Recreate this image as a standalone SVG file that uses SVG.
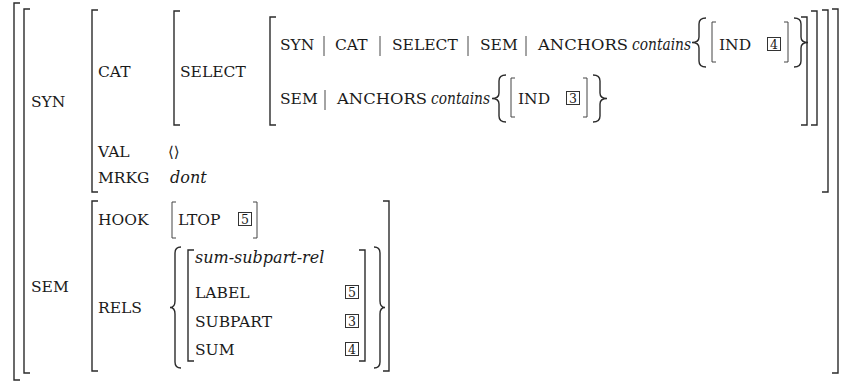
<svg xmlns="http://www.w3.org/2000/svg" width="842" height="381" viewBox="0 0 842 381">
<style>
.t{font-size:15.5px}
.i{font-style:italic;font-size:16px}
.n{font-size:12.5px;text-anchor:middle}
.br{fill:none;stroke:#2b2b2b;stroke-width:1.4}
.sb{fill:none;stroke:#444;stroke-width:1}
.bx{fill:none;stroke:#333;stroke-width:1}
.bar{stroke:#333;stroke-width:0.9}
</style>
<rect width="842" height="381" fill="#fff"/>
<g id="outer">
<path class="br" d="M20 3H14V380H20"/>
<path class="br" d="M30 9H24V373H30"/>
<path class="br" d="M832 9H838V373H832"/>
</g>
<g font-family="DejaVu Serif, Liberation Serif, serif" fill="#1a1a1a">
<g id="syn">
<text class="t" x="31" y="107">SYN</text>
<path class="br" d="M98 10H92V192H98"/>
<path class="br" d="M822 10H828V192H822"/>
<text class="t" x="98" y="77">CAT</text>
<path class="br" d="M180 11H174V125H180"/>
<path class="br" d="M811 11H817V125H811"/>
<text class="t" x="180" y="77">SELECT</text>
<path class="br" d="M276 17H270V125H276"/>
<path class="br" d="M801 17H807V125H801"/>
<g id="row1">
<text class="t" x="280" y="50">SYN</text>
<line class="bar" x1="324" y1="36" x2="324" y2="56"/>
<text class="t" x="335" y="50">CAT</text>
<line class="bar" x1="380" y1="36" x2="380" y2="56"/>
<text class="t" x="392" y="50">SELECT</text>
<line class="bar" x1="468" y1="36" x2="468" y2="56"/>
<text class="t" x="480" y="50">SEM</text>
<line class="bar" x1="526" y1="36" x2="526" y2="56"/>
<text class="t" x="538" y="50" textLength="90" lengthAdjust="spacingAndGlyphs">ANCHORS</text>
<text class="i" x="632" y="50" textLength="59" lengthAdjust="spacingAndGlyphs">contains</text>
<path class="br" d="M706 18Q699 18 699 24V37Q699 42.5 692 42.5Q699 42.5 699 48V61Q699 67 706 67"/>
<path class="sb" d="M716 22H712V62H716"/>
<text class="t" x="719" y="50">IND</text>
<rect class="bx" x="767.5" y="37.5" width="13" height="13"/>
<text class="n" x="774" y="49">4</text>
<path class="sb" d="M784 22H788V62H784"/>
<path class="br" d="M794 18Q801 18 801 24V37Q801 42.5 808 42.5Q801 42.5 801 48V61Q801 67 794 67"/>
</g>
<g id="row2">
<text class="t" x="280" y="104">SEM</text>
<line class="bar" x1="325" y1="90" x2="325" y2="110"/>
<text class="t" x="337" y="104" textLength="90" lengthAdjust="spacingAndGlyphs">ANCHORS</text>
<text class="i" x="431" y="104" textLength="59" lengthAdjust="spacingAndGlyphs">contains</text>
<path class="br" d="M506 75Q499 75 499 81V93Q499 98.5 492 98.5Q499 98.5 499 104V116Q499 122 506 122"/>
<path class="sb" d="M515 78H511V117H515"/>
<text class="t" x="518" y="104">IND</text>
<rect class="bx" x="566.5" y="91.5" width="13" height="13"/>
<text class="n" x="573" y="103">3</text>
<path class="sb" d="M583 78H587V117H583"/>
<path class="br" d="M593 75Q600 75 600 81V93Q600 98.5 607 98.5Q600 98.5 600 104V116Q600 122 593 122"/>
</g>
<text class="t" x="98" y="157">VAL</text>
<text x="168" y="157" font-size="15">⟨⟩</text>
<text class="t" x="98" y="183">MRKG</text>
<text class="i" x="170" y="183">dont</text>
</g>
<g id="sem">
<text class="t" x="31" y="292">SEM</text>
<path class="br" d="M98 201H92V371H98"/>
<path class="br" d="M383 201H389V371H383"/>
<text class="t" x="98" y="225">HOOK</text>
<path class="sb" d="M176 202H172V238H176"/>
<text class="t" x="178" y="225">LTOP</text>
<rect class="bx" x="238.5" y="212.5" width="13" height="13"/>
<text class="n" x="245" y="224">5</text>
<path class="sb" d="M253 202H257V238H253"/>
<text class="t" x="98" y="313">RELS</text>
<path class="br" d="M181 247Q175 247 175 253V301Q175 307.5 170 307.5Q175 307.5 175 314V362Q175 368 181 368"/>
<path class="br" d="M194 250H188V361H194"/>
<text class="i" x="195" y="263">sum-subpart-rel</text>
<text class="t" x="195" y="298">LABEL</text>
<rect class="bx" x="345.5" y="285.5" width="13" height="13"/>
<text class="n" x="352" y="297">5</text>
<text class="t" x="195" y="327">SUBPART</text>
<rect class="bx" x="345.5" y="314.5" width="13" height="13"/>
<text class="n" x="352" y="326">3</text>
<text class="t" x="195" y="355">SUM</text>
<rect class="bx" x="345.5" y="342.5" width="13" height="13"/>
<text class="n" x="352" y="354">4</text>
<path class="br" d="M359 250H365V361H359"/>
<path class="br" d="M374 247Q380 247 380 253V301Q380 307.5 385 307.5Q380 307.5 380 314V362Q380 368 374 368"/>
</g>
</g>
</svg>
